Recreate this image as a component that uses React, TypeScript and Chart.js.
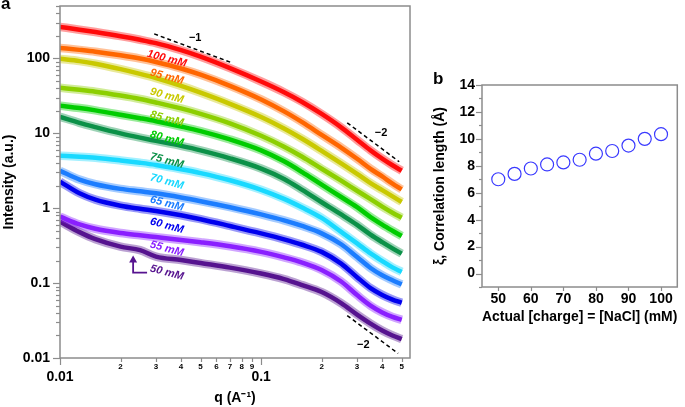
import React, { useEffect, useRef } from "react";
import { Chart, registerables } from "chart.js";
Chart.register(...registerables);

const FONT = "'Liberation Sans', Arial, Helvetica, sans-serif";
const AXIS_COLOR = "#8c8c8c";

// ---------- Panel a data ----------
const qValues = [0.01, 0.0125, 0.015, 0.02, 0.025, 0.03, 0.04, 0.05, 0.07, 0.1, 0.13, 0.16, 0.2, 0.25, 0.3, 0.35, 0.4, 0.45, 0.5];
const conc100 = [263, 241.5, 224.4, 197.7, 177.0, 159.6, 128.5, 105.2, 73.96, 49.1, 35.3, 26.2, 18.1, 12.0, 8.18, 5.92, 4.59, 3.74, 3.16];
const conc95 = [138, 129.8, 122.8, 110.0, 99.4, 89.5, 73.3, 60.6, 43.0, 28.3, 19.6, 14.06, 9.52, 6.45, 4.57, 3.35, 2.65, 2.13, 1.78];
const conc90 = [98.5, 91.8, 84.7, 71.8, 62.1, 54.5, 42.9, 34.8, 24.7, 16.5, 11.6, 8.45, 5.83, 3.97, 2.87, 2.16, 1.74, 1.44, 1.21];
const conc85 = [40.4, 38.0, 35.9, 31.9, 28.7, 25.8, 21.5, 18.2, 13.6, 9.26, 6.61, 4.86, 3.36, 2.33, 1.71, 1.32, 1.05, 0.871, 0.747];
const conc80 = [23.3, 21.7, 20.2, 17.7, 15.9, 14.5, 12.3, 10.7, 8.27, 5.92, 4.22, 3.03, 2.06, 1.41, 1.03, 0.761, 0.604, 0.5, 0.425];
const conc75 = [16.6, 13.8, 12.1, 9.97, 8.74, 7.92, 6.79, 5.92, 4.63, 3.38, 2.46, 1.76, 1.2, 0.824, 0.599, 0.443, 0.352, 0.291, 0.247];
const conc70 = [5.01, 4.86, 4.7, 4.34, 4.04, 3.78, 3.31, 2.94, 2.36, 1.76, 1.33, 1.02, 0.742, 0.483, 0.339, 0.249, 0.197, 0.162, 0.141];
const conc65 = [3.16, 2.41, 2.09, 1.81, 1.68, 1.58, 1.39, 1.24, 1.03, 0.827, 0.688, 0.579, 0.461, 0.33, 0.223, 0.159, 0.127, 0.109, 0.0961];
const conc60 = [2.26, 1.58, 1.3, 1.08, 0.982, 0.918, 0.804, 0.713, 0.579, 0.461, 0.384, 0.325, 0.261, 0.182, 0.12, 0.0858, 0.0696, 0.0603, 0.0546];
const conc55 = [0.77, 0.606, 0.531, 0.466, 0.434, 0.411, 0.377, 0.351, 0.31, 0.261, 0.22, 0.188, 0.15, 0.105, 0.0692, 0.05, 0.0406, 0.0354, 0.0323];
const conc50 = [0.661, 0.479, 0.386, 0.307, 0.275, 0.226, 0.203, 0.185, 0.161, 0.134, 0.113, 0.094, 0.0759, 0.0541, 0.038, 0.0288, 0.0233, 0.02, 0.0179];

const seriesNames = ["100 mM", "95 mM", "90 mM", "85 mM", "80 mM", "75 mM", "70 mM", "65 mM", "60 mM", "55 mM", "50 mM"];
const seriesColors = ["#ff0a0a", "#ff6600", "#c9c900", "#8ccf00", "#00cc00", "#0b9148", "#19d9ff", "#1c7dff", "#0000ee", "#8a1fff", "#56138f"];
const seriesValues = [conc100, conc95, conc90, conc85, conc80, conc75, conc70, conc65, conc60, conc55, conc50];
const labelQ = 0.034;
const labelI = [98.5, 56.7, 31.6, 15.6, 8.45, 4.3, 2.26, 1.15, 0.584, 0.288, 0.138];

const xTicksA = [0.01, 0.02, 0.03, 0.04, 0.05, 0.06, 0.07, 0.08, 0.09, 0.1, 0.2, 0.3, 0.4, 0.5];
const yTicksA = [0.01, 0.1, 1, 10, 100];

// slope guides (q, I)
const guideMinus1 = [{ x: 0.0294, y: 212 }, { x: 0.0718, y: 87.1 }];
const guideMinus2Top = [{ x: 0.268, y: 13.8 }, { x: 0.486, y: 4.17 }];
const guideMinus2Bottom = [{ x: 0.268, y: 0.0369 }, { x: 0.48, y: 0.0115 }];
const guideLabels = [
  { text: "\u22121", x: 0.047, y: 188 },
  { text: "\u22122", x: 0.395, y: 10.2 },
  { text: "\u22122", x: 0.322, y: 0.0147 },
];
const arrowPath = [{ x: 0.0231, y: 0.219 }, { x: 0.0231, y: 0.138 }, { x: 0.0271, y: 0.138 }];

// ---------- Panel b data ----------
const chargeMM = [50, 55, 60, 65, 70, 75, 80, 85, 90, 95, 100];
const corrLength = [7.0, 7.4, 7.8, 8.1, 8.25, 8.45, 8.9, 9.1, 9.5, 10.0, 10.35];
const xTicksB = [50, 60, 70, 80, 90, 100];
const yTicksB = [0, 2, 4, 6, 8, 10, 12, 14];

const isDecade = (v: number) => Math.abs(Math.log10(v) - Math.round(Math.log10(v))) < 1e-9;
const mantissa = (v: number) => Math.round(v / Math.pow(10, Math.floor(Math.log10(v) + 1e-9)));

function hexA(hex: string, a: number) {
  const n = parseInt(hex.slice(1), 16);
  return `rgba(${(n >> 16) & 255},${(n >> 8) & 255},${n & 255},${a})`;
}

function line(ctx: CanvasRenderingContext2D, x1: number, y1: number, x2: number, y2: number) {
  ctx.beginPath();
  ctx.moveTo(x1, y1);
  ctx.lineTo(x2, y2);
  ctx.stroke();
}

const panelAPlugin = {
  id: "panelA",
  afterDatasetsDraw(chart: any) {
    const { ctx, scales } = chart;
    const x = scales.x, y = scales.y;
    ctx.save();
    ctx.font = `italic bold 11px ${FONT}`;
    ctx.textAlign = "center";
    ctx.textBaseline = "middle";
    seriesNames.forEach((name, i) => {
      const px = x.getPixelForValue(labelQ);
      const py = y.getPixelForValue(labelI[i]);
      ctx.save();
      ctx.translate(px, py);
      ctx.rotate(0.26);
      ctx.fillStyle = seriesColors[i];
      ctx.fillText(name, 0, 0);
      ctx.restore();
    });
    ctx.font = `bold 11px ${FONT}`;
    ctx.fillStyle = "#000";
    guideLabels.forEach((g) => {
      ctx.fillText(g.text, x.getPixelForValue(g.x), y.getPixelForValue(g.y));
    });
    const ax = x.getPixelForValue(arrowPath[0].x);
    const ay = y.getPixelForValue(arrowPath[0].y);
    ctx.fillStyle = seriesColors[10];
    ctx.beginPath();
    ctx.moveTo(ax, ay - 2);
    ctx.lineTo(ax - 4, ay + 5);
    ctx.lineTo(ax + 4, ay + 5);
    ctx.closePath();
    ctx.fill();
    ctx.restore();
  },
  afterDraw(chart: any) {
    const { ctx, chartArea: a, scales } = chart;
    const x = scales.x, y = scales.y;
    ctx.save();
    ctx.strokeStyle = AXIS_COLOR;
    ctx.lineWidth = 1.5;
    ctx.strokeRect(a.left, a.top, a.right - a.left, a.bottom - a.top);
    ctx.lineWidth = 1.2;
    for (let d = -2; d <= 2; d++) {
      for (let m = 1; m <= 9; m++) {
        const v = m * Math.pow(10, d);
        if (v < y.min - 1e-12 || v > y.max) continue;
        const py = Math.round(y.getPixelForValue(v)) + 0.5;
        line(ctx, a.left - (m === 1 ? 7 : 4), py, a.left, py);
      }
    }
    xTicksA.forEach((v) => {
      const px = Math.round(x.getPixelForValue(v)) + 0.5;
      line(ctx, px, a.bottom, px, a.bottom + (isDecade(v) ? 7 : 4));
    });
    ctx.restore();
  },
};

const panelBPlugin = {
  id: "panelB",
  afterDraw(chart: any) {
    const { ctx, chartArea: a, scales } = chart;
    const x = scales.x, y = scales.y;
    ctx.save();
    ctx.strokeStyle = AXIS_COLOR;
    ctx.lineWidth = 1.5;
    ctx.strokeRect(a.left, a.top, a.right - a.left, a.bottom - a.top);
    ctx.lineWidth = 1.2;
    for (let v = -1; v <= 14; v++) {
      const py = Math.round(y.getPixelForValue(v)) + 0.5;
      line(ctx, a.left - (v % 2 === 0 ? 6 : 3), py, a.left, py);
    }
    xTicksB.forEach((v) => {
      const px = Math.round(x.getPixelForValue(v)) + 0.5;
      line(ctx, px, a.bottom, px, a.bottom + 4);
    });
    ctx.restore();
  },
};

const zeroPad = (s: any) => {
  s.paddingTop = 0;
  s.paddingBottom = 0;
  s.paddingLeft = 0;
  s.paddingRight = 0;
};

export default function App() {
  const refA = useRef<HTMLCanvasElement>(null);
  const refB = useRef<HTMLCanvasElement>(null);

  useEffect(() => {
    Chart.defaults.font.family = FONT;
    Chart.defaults.color = "#000";

    const seriesDatasets: any[] = [];
    seriesValues.forEach((vals, i) => {
      const data = qValues.map((q, j) => ({ x: q, y: vals[j] }));
      seriesDatasets.push({
        type: "line",
        label: seriesNames[i],
        data,
        borderColor: seriesColors[i],
        borderWidth: 4.5,
        pointRadius: 0,
        cubicInterpolationMode: "monotone",
        fill: false,
      });
      seriesDatasets.push({
        type: "line",
        label: seriesNames[i] + " band",
        data,
        borderColor: hexA(seriesColors[i], 0.4),
        borderWidth: 8.5,
        pointRadius: 0,
        cubicInterpolationMode: "monotone",
        fill: false,
      });
    });
    const guideStyle = {
      type: "line",
      borderColor: "#000",
      borderWidth: 1.5,
      borderDash: [4, 3],
      pointRadius: 0,
      fill: false,
    };

    const chartA = new Chart(refA.current!, {
      type: "line",
      data: {
        datasets: [
          { ...guideStyle, label: "slope -1", data: guideMinus1 },
          { ...guideStyle, label: "slope -2 top", data: guideMinus2Top },
          { ...guideStyle, label: "slope -2 bottom", data: guideMinus2Bottom },
          {
            type: "line",
            label: "arrow",
            data: arrowPath,
            borderColor: seriesColors[10],
            borderWidth: 1.8,
            pointRadius: 0,
            fill: false,
          },
          ...seriesDatasets,
        ] as any,
      },
      options: {
        responsive: false,
        animation: false,
        layout: { padding: { left: 0, top: 6, right: 20, bottom: 0 } },
        plugins: { legend: { display: false }, tooltip: { enabled: false } },
        scales: {
          x: {
            type: "logarithmic",
            min: 0.01,
            max: 0.55,
            grid: { display: false, drawTicks: false },
            border: { display: false },
            afterBuildTicks: (s: any) => {
              s.ticks = xTicksA.map((v) => ({ value: v }));
            },
            afterFit: (s: any) => {
              s.height = 49;
              zeroPad(s);
            },
            ticks: {
              autoSkip: false,
              maxRotation: 0,
              minRotation: 0,
              padding: 4,
              color: "#000",
              callback: (v: any) => {
                const n = Number(v);
                return isDecade(n) ? ["", String(n)] : String(mantissa(n));
              },
              font: (c: any) => {
                const v = c.tick ? c.tick.value : 1;
                return isDecade(v)
                  ? { size: 14, weight: "bold", lineHeight: 0.7, family: FONT }
                  : { size: 8, weight: "bold", family: FONT };
              },
            },
            title: {
              display: true,
              text: "q (A\u207B\u00B9)",
              font: { size: 14, weight: "bold", family: FONT },
              color: "#000",
              padding: { top: 0, bottom: 0 },
            },
          },
          y: {
            type: "logarithmic",
            min: 0.01,
            max: 500,
            grid: { display: false, drawTicks: false },
            border: { display: false },
            afterBuildTicks: (s: any) => {
              s.ticks = yTicksA.map((v) => ({ value: v }));
            },
            afterFit: (s: any) => {
              s.width = 60;
              zeroPad(s);
            },
            ticks: {
              autoSkip: false,
              padding: 10,
              color: "#000",
              font: { size: 14, weight: "bold", family: FONT },
              callback: (v: any) => String(Number(v)),
            },
            title: {
              display: true,
              text: "Intensity (a.u.)",
              font: { size: 14, weight: "bold", family: FONT },
              color: "#000",
              padding: { top: 1, bottom: 0 },
            },
          },
        },
      },
      plugins: [panelAPlugin],
    } as any);

    const chartB = new Chart(refB.current!, {
      type: "scatter",
      data: {
        datasets: [
          {
            label: "Correlation length",
            data: chargeMM.map((c, i) => ({ x: c, y: corrLength[i] })),
            borderColor: "#3a3aff",
            backgroundColor: "rgba(0,0,0,0)",
            borderWidth: 1.2,
            pointRadius: 6.5,
            pointStyle: "circle",
            showLine: false,
          },
        ],
      },
      options: {
        responsive: false,
        animation: false,
        layout: { padding: { left: 0, top: 85, right: 1, bottom: 80 } },
        plugins: { legend: { display: false }, tooltip: { enabled: false } },
        scales: {
          x: {
            type: "linear",
            min: 45,
            max: 105,
            grid: { display: false, drawTicks: false },
            border: { display: false },
            afterBuildTicks: (s: any) => {
              s.ticks = xTicksB.map((v) => ({ value: v }));
            },
            afterFit: (s: any) => {
              s.height = 40;
              zeroPad(s);
            },
            ticks: {
              autoSkip: false,
              maxRotation: 0,
              padding: 4,
              color: "#000",
              font: { size: 14, weight: "bold", family: FONT },
            },
            title: {
              display: true,
              text: "Actual [charge] = [NaCl] (mM)",
              font: { size: 14, weight: "bold", family: FONT },
              color: "#000",
              padding: { top: 0, bottom: 1 },
            },
          },
          y: {
            type: "linear",
            min: -1,
            max: 14,
            grid: { display: false, drawTicks: false },
            border: { display: false },
            afterBuildTicks: (s: any) => {
              s.ticks = yTicksB.map((v) => ({ value: v }));
            },
            afterFit: (s: any) => {
              s.width = 52;
              zeroPad(s);
            },
            ticks: {
              autoSkip: false,
              padding: 7,
              color: "#000",
              font: { size: 14, weight: "bold", family: FONT },
            },
            title: {
              display: true,
              text: "\u03BE, Correlation length (\u00C5)",
              font: { size: 14, weight: "bold", family: FONT },
              color: "#000",
              padding: { top: 2, bottom: 0 },
            },
          },
        },
      },
      plugins: [panelBPlugin],
    } as any);

    return () => {
      chartA.destroy();
      chartB.destroy();
    };
  }, []);

  return (
    <div style={{ position: "absolute", left: 0, top: 0, width: 685, height: 407, background: "#fff", fontFamily: FONT }}>
      <canvas ref={refA} width={430} height={407} style={{ position: "absolute", left: 0, top: 0 }} />
      <canvas ref={refB} width={255} height={407} style={{ position: "absolute", left: 430, top: 0 }} />
      <div style={{ position: "absolute", left: 1, top: -6, fontWeight: "bold", fontSize: 17 }}>a</div>
      <div style={{ position: "absolute", left: 433, top: 69, fontWeight: "bold", fontSize: 17 }}>b</div>
    </div>
  );
}
